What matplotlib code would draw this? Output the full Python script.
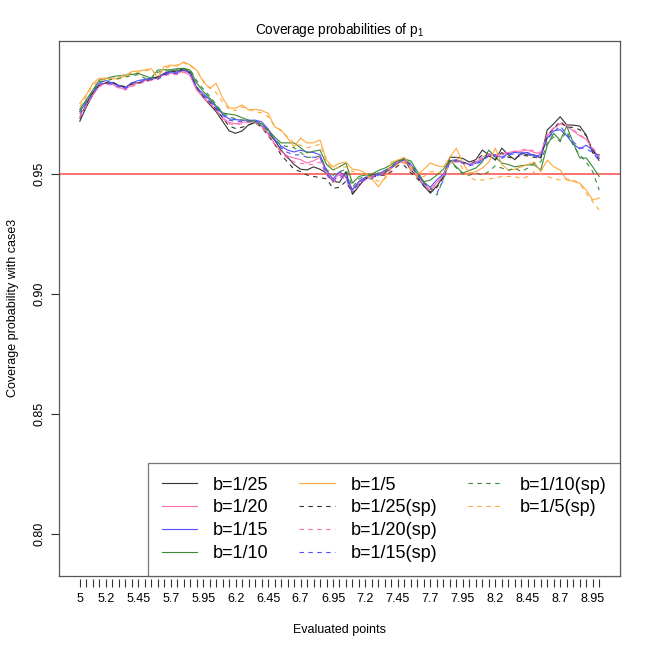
import matplotlib
matplotlib.use("Agg")
import matplotlib.pyplot as plt
from matplotlib.lines import Line2D
import numpy as np

plt.rcParams['font.family'] = ['Liberation Sans', 'DejaVu Sans']
plt.rcParams['mathtext.fontset'] = 'custom'
plt.rcParams['mathtext.rm'] = 'Liberation Sans'

# evaluated points 5.00, 5.05, ..., 9.00
points = np.round(np.arange(5.0, 9.0001, 0.05), 2)

b25 = [0.972, 0.978, 0.983, 0.987, 0.988, 0.988, 0.987, 0.986, 0.988, 0.988,
       0.989, 0.990, 0.9905, 0.992, 0.993, 0.993, 0.994, 0.9925, 0.986, 0.982,
       0.979, 0.976, 0.972, 0.968, 0.967, 0.968, 0.9705, 0.9715, 0.970, 0.967,
       0.9642, 0.960, 0.957, 0.954, 0.952, 0.9517, 0.953, 0.952, 0.9504, 0.947,
       0.9465, 0.951, 0.9415, 0.945, 0.9483, 0.9496, 0.950, 0.9505, 0.9525, 0.9546,
       0.956, 0.9517, 0.949, 0.945, 0.942, 0.945, 0.949, 0.957, 0.957, 0.9565,
       0.955, 0.956, 0.960, 0.958, 0.9558, 0.9608, 0.958, 0.956, 0.9588, 0.958,
       0.958, 0.9567, 0.9684, 0.971, 0.9739, 0.9705, 0.9704, 0.970, 0.9663, 0.9588, 0.958]
b20 = [0.974, 0.979, 0.983, 0.987, 0.988, 0.9875, 0.986, 0.9855, 0.987, 0.988,
       0.989, 0.9895, 0.990, 0.9915, 0.992, 0.992, 0.993, 0.991, 0.985, 0.982,
       0.9795, 0.977, 0.9735, 0.9715, 0.971, 0.9715, 0.972, 0.972, 0.970, 0.967,
       0.9625, 0.9595, 0.9575, 0.9567, 0.956, 0.9546, 0.9555, 0.957, 0.9504, 0.9475,
       0.950, 0.9485, 0.9433, 0.9465, 0.948, 0.949, 0.950, 0.951, 0.9525, 0.955,
       0.9555, 0.953, 0.9495, 0.946, 0.9435, 0.9465, 0.9495, 0.955, 0.9555, 0.9548,
       0.954, 0.955, 0.957, 0.9585, 0.958, 0.958, 0.959, 0.9595, 0.9595, 0.960,
       0.959, 0.9585, 0.966, 0.969, 0.971, 0.970, 0.968, 0.966, 0.9645, 0.9605, 0.957]
b15 = [0.976, 0.980, 0.984, 0.988, 0.989, 0.988, 0.987, 0.986, 0.988, 0.989,
       0.9895, 0.990, 0.990, 0.992, 0.9925, 0.9925, 0.9935, 0.992, 0.986, 0.9835,
       0.981, 0.978, 0.975, 0.973, 0.9727, 0.9725, 0.9724, 0.9725, 0.9718, 0.9688,
       0.9645, 0.9617, 0.960, 0.9592, 0.960, 0.9592, 0.959, 0.958, 0.9515, 0.948,
       0.951, 0.949, 0.9435, 0.947, 0.9487, 0.9487, 0.950, 0.9515, 0.953, 0.9555,
       0.9565, 0.954, 0.950, 0.9465, 0.9445, 0.9476, 0.950, 0.9555, 0.956, 0.955,
       0.954, 0.9545, 0.956, 0.958, 0.958, 0.957, 0.9585, 0.959, 0.9588, 0.959,
       0.9575, 0.958, 0.965, 0.968, 0.9685, 0.966, 0.9625, 0.9605, 0.962, 0.960, 0.9565]
b10 = [0.977, 0.981, 0.985, 0.9892, 0.9898, 0.9906, 0.991, 0.9913, 0.9915, 0.992,
       0.991, 0.990, 0.9934, 0.9935, 0.9935, 0.994, 0.9941, 0.9934, 0.988, 0.9845,
       0.9817, 0.9785, 0.9755, 0.975, 0.9746, 0.9735, 0.9725, 0.972, 0.971, 0.9684,
       0.9655, 0.963, 0.963, 0.963, 0.961, 0.9588, 0.9595, 0.960, 0.954, 0.9517,
       0.953, 0.9546, 0.9462, 0.949, 0.9496, 0.950, 0.9515, 0.9525, 0.954, 0.9558,
       0.9562, 0.9555, 0.951, 0.9468, 0.9475, 0.9496, 0.952, 0.9558, 0.953, 0.9504,
       0.9515, 0.9525, 0.955, 0.960, 0.957, 0.9546, 0.954, 0.953, 0.9535, 0.9538,
       0.9538, 0.9517, 0.962, 0.967, 0.964, 0.970, 0.963, 0.9567, 0.9567, 0.953, 0.949]
b5 = [0.9795, 0.983, 0.9878, 0.990, 0.990, 0.9898, 0.9896, 0.991, 0.9927, 0.993,
      0.9934, 0.994, 0.990, 0.9948, 0.9955, 0.995, 0.9968, 0.9955, 0.9934, 0.9885,
      0.9858, 0.9878, 0.9817, 0.9775, 0.9775, 0.9788, 0.9767, 0.977, 0.9765, 0.9754,
      0.9697, 0.9684, 0.965, 0.9614, 0.965, 0.963, 0.963, 0.9642, 0.9558, 0.953,
      0.9545, 0.955, 0.952, 0.9517, 0.9504, 0.948, 0.9447, 0.9485, 0.955, 0.9558,
      0.957, 0.953, 0.9496, 0.952, 0.9546, 0.9535, 0.953, 0.957, 0.9608, 0.9546,
      0.9504, 0.951, 0.9525, 0.955, 0.9608, 0.954, 0.9517, 0.952, 0.953, 0.954,
      0.955, 0.951, 0.9558, 0.953, 0.9517, 0.9475, 0.947, 0.9462, 0.9433, 0.9392, 0.940]
b25_sp = [0.973, 0.979, 0.984, 0.987, 0.988, 0.9885, 0.987, 0.9865, 0.9875, 0.988,
          0.9885, 0.9895, 0.9905, 0.9915, 0.993, 0.9925, 0.9935, 0.992, 0.9865, 0.9825,
          0.980, 0.977, 0.9735, 0.970, 0.969, 0.9695, 0.9705, 0.9715, 0.9695, 0.966,
          0.9625, 0.958, 0.955, 0.952, 0.951, 0.9496, 0.949, 0.9485, 0.948, 0.944,
          0.9445, 0.947, 0.942, 0.9455, 0.948, 0.9485, 0.9495, 0.9495, 0.951, 0.9535,
          0.9535, 0.9505, 0.948, 0.945, 0.9425, 0.9445, 0.9485, 0.9555, 0.9555, 0.955,
          0.954, 0.9555, 0.958, 0.9575, 0.956, 0.959, 0.957, 0.9565, 0.958, 0.9575,
          0.957, 0.9565, 0.966, 0.969, 0.972, 0.9695, 0.9695, 0.9685, 0.966, 0.960, 0.9555]
b20_sp = [0.9735, 0.9785, 0.983, 0.9865, 0.9875, 0.987, 0.986, 0.985, 0.9865, 0.9875,
          0.9885, 0.989, 0.9895, 0.991, 0.9915, 0.9915, 0.9925, 0.991, 0.9855, 0.982,
          0.9795, 0.9765, 0.973, 0.971, 0.9705, 0.971, 0.9715, 0.9715, 0.9695, 0.9665,
          0.9625, 0.959, 0.9565, 0.955, 0.9545, 0.954, 0.954, 0.955, 0.9495, 0.9465,
          0.9485, 0.948, 0.9425, 0.9455, 0.9475, 0.9485, 0.9495, 0.9505, 0.952, 0.955,
          0.9545, 0.952, 0.949, 0.9455, 0.943, 0.946, 0.9495, 0.955, 0.955, 0.9545,
          0.954, 0.955, 0.9565, 0.958, 0.9575, 0.9585, 0.959, 0.9595, 0.960, 0.9605,
          0.9595, 0.959, 0.9665, 0.9695, 0.971, 0.9705, 0.9685, 0.9665, 0.9645, 0.961, 0.9575]
b15_sp = [0.975, 0.9795, 0.9835, 0.9875, 0.988, 0.9875, 0.9865, 0.9855, 0.988, 0.9885,
          0.989, 0.9895, 0.9895, 0.9915, 0.992, 0.992, 0.9935, 0.992, 0.986, 0.983,
          0.9805, 0.9775, 0.9745, 0.9725, 0.972, 0.972, 0.972, 0.9722, 0.971, 0.968,
          0.964, 0.961, 0.959, 0.958, 0.958, 0.957, 0.957, 0.957, 0.950, 0.947,
          0.9495, 0.948, 0.9425, 0.9465, 0.948, 0.948, 0.9495, 0.951, 0.9525, 0.955,
          0.956, 0.9535, 0.9495, 0.946, 0.944, 0.942, 0.9475, 0.955, 0.9555, 0.9545,
          0.9535, 0.954, 0.9555, 0.9575, 0.9575, 0.9565, 0.958, 0.9585, 0.958, 0.9585,
          0.957, 0.9575, 0.9645, 0.9675, 0.970, 0.9665, 0.9635, 0.961, 0.9605, 0.959, 0.9555]
b10_sp = [0.976, 0.9805, 0.9845, 0.9885, 0.989, 0.9895, 0.990, 0.9905, 0.991, 0.9915,
          0.990, 0.9895, 0.9925, 0.993, 0.993, 0.9935, 0.9935, 0.9935, 0.989, 0.9855,
          0.9825, 0.979, 0.9755, 0.974, 0.973, 0.9725, 0.972, 0.9715, 0.9705, 0.968,
          0.9645, 0.962, 0.9615, 0.961, 0.959, 0.957, 0.957, 0.9575, 0.952, 0.9495,
          0.951, 0.952, 0.9445, 0.948, 0.949, 0.9495, 0.9505, 0.9515, 0.953, 0.9555,
          0.9555, 0.9545, 0.9505, 0.9465, 0.9445, 0.9412, 0.948, 0.9555, 0.9525, 0.950,
          0.9495, 0.9505, 0.9496, 0.951, 0.9535, 0.9525, 0.9515, 0.9525, 0.951, 0.9525,
          0.9545, 0.955, 0.963, 0.9655, 0.9635, 0.968, 0.962, 0.958, 0.955, 0.951, 0.9433]
b5_sp = [0.978, 0.9825, 0.987, 0.989, 0.9895, 0.990, 0.9905, 0.9915, 0.992, 0.9925,
         0.993, 0.9935, 0.991, 0.994, 0.995, 0.9955, 0.9965, 0.995, 0.9935, 0.989,
         0.986, 0.984, 0.980, 0.977, 0.9765, 0.978, 0.977, 0.976, 0.9755, 0.974,
         0.970, 0.968, 0.9655, 0.963, 0.962, 0.961, 0.9615, 0.9625, 0.955, 0.952,
         0.953, 0.953, 0.951, 0.9505, 0.9495, 0.948, 0.947, 0.948, 0.9525, 0.954,
         0.955, 0.9515, 0.9485, 0.949, 0.951, 0.951, 0.950, 0.954, 0.957, 0.952,
         0.9485, 0.9475, 0.9475, 0.948, 0.9483, 0.949, 0.949, 0.949, 0.948, 0.949,
         0.951, 0.950, 0.949, 0.948, 0.9475, 0.948, 0.9475, 0.946, 0.942, 0.9385, 0.935]

labels = ["b=1/25", "b=1/20", "b=1/15", "b=1/10", "b=1/5",
          "b=1/25(sp)", "b=1/20(sp)", "b=1/15(sp)", "b=1/10(sp)", "b=1/5(sp)"]
series = [b25, b20, b15, b10, b5, b25_sp, b20_sp, b15_sp, b10_sp, b5_sp]
colors = ["#333333", "#ff6eb4", "#4f4fff", "#3a8a3a", "#ffa83c",
          "#333333", "#ff6eb4", "#4f4fff", "#3a8a3a", "#ffa83c"]
styles = ["-"] * 5 + [(0, (4, 4))] * 5

# every 0.05 gets a tick, R drops overlapping labels
tick_labels = ["5"] + [""] * 3 + ["5.2"] + [""] * 4
for i in range(9, len(points)):
    tick_labels.append(f"{points[i]:g}" if (i - 9) % 5 == 0 else "")

fig = plt.figure(figsize=(6.5, 6.5), dpi=100)
ax = fig.add_axes([0.0908, 0.1146, 0.8630, 0.8223])

for y, lab, c, ls in zip(series, labels, colors, styles):
    ax.plot(points, y, color=c, linestyle=ls, linewidth=0.8, label=lab)

ax.axhline(0.95, color="#ff7070", linewidth=1.4, zorder=1)

ax.set_xlim(4.84, 9.16)
ax.set_ylim(0.7825, 1.0055)
ax.set_yticks([0.80, 0.85, 0.90, 0.95])
ax.set_yticklabels(["0.80", "0.85", "0.90", "0.95"], rotation=90, va="center")
ax.tick_params(axis="y", length=6, pad=4, labelsize=9, color="#333333")
for s in ax.spines.values():
    s.set_color("#555555")
    s.set_linewidth(0.9)

# x ticks sit a little below the box, no axis line
ax.tick_params(axis="x", bottom=False, labelbottom=False)
sec = ax.secondary_xaxis(-0.006)
sec.set_xticks(points)
sec.set_xticklabels(tick_labels)
sec.tick_params(axis="x", length=6, pad=4, labelsize=9, color="#333333")
sec.spines["bottom"].set_visible(False)
sec.set_xlabel("Evaluated points", fontsize=9, labelpad=14)

ax.set_ylabel("Coverage probability with case3", fontsize=9, labelpad=10)
ax.set_title(r"Coverage probabilities of $\mathregular{p_1}$", fontsize=9.8, pad=5)

handles, labs = ax.get_legend_handles_labels()
blank = Line2D([], [], linestyle="none")
handles += [blank, blank]
labs += ["", ""]
leg = ax.legend(handles, labs, ncol=3, loc="lower right", fontsize=13,
                borderaxespad=0, frameon=True, fancybox=False,
                handlelength=1.95, handletextpad=0.9, columnspacing=1.7,
                labelspacing=0.32, borderpad=0.75)
leg.get_frame().set_edgecolor("#555555")
leg.get_frame().set_linewidth(0.9)

fig.savefig("out.png", dpi=100)
